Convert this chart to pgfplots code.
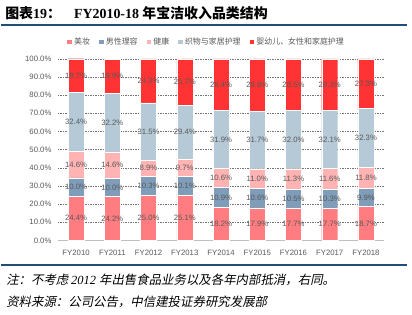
\documentclass[border=0pt]{standalone}
\usepackage{fontspec}
\usepackage{pgfplots}
\usepackage{pgfplotstable}
\pgfplotsset{compat=1.18}
\setmainfont{Liberation Sans}
\newfontfamily\cjk{Noto Sans CJK SC}
\newfontfamily\cjki[FakeSlant=0.2]{Noto Sans CJK SC}
\newfontfamily\serif{Liberation Serif}
\newfontfamily\serifi{Liberation Serif}
\definecolor{cA}{HTML}{FF7C80}
\definecolor{cB}{HTML}{7F9DB9}
\definecolor{cC}{HTML}{FFB3B3}
\definecolor{cD}{HTML}{B5C9D7}
\definecolor{cE}{HTML}{FF3333}
\definecolor{rule}{HTML}{1F4E79}
\definecolor{txt}{HTML}{595959}
\pgfplotstableread{
x a b c d e
0 24.4 10.0 14.6 32.4 18.7
1 24.2 10.0 14.6 32.2 18.9
2 25.0 10.3 8.9 31.5 24.3
3 25.1 10.1 9.7 29.4 25.7
4 18.2 10.9 10.6 31.9 28.4
5 17.9 10.6 11.0 31.7 28.8
6 17.7 10.5 11.3 32.0 28.5
7 17.7 10.3 11.6 32.1 28.3
8 18.7 9.9 11.8 32.3 27.3
}\data
\pgfplotstablecreatecol[expr={\thisrow{a}/2}]{pa}\data
\pgfplotstablecreatecol[expr={\thisrow{a}+\thisrow{b}/2}]{pb}\data
\pgfplotstablecreatecol[expr={\thisrow{a}+\thisrow{b}+\thisrow{c}/2}]{pc}\data
\pgfplotstablecreatecol[expr={\thisrow{a}+\thisrow{b}+\thisrow{c}+\thisrow{d}/2}]{pd}\data
\pgfplotstablecreatecol[expr={\thisrow{a}+\thisrow{b}+\thisrow{c}+\thisrow{d}+\thisrow{e}/2}]{pe}\data
\begin{document}
\begin{tikzpicture}
\path (0bp,0bp) rectangle (412bp,-315bp);
\node[anchor=west,inner sep=0] at (4bp,-13bp) {\fontsize{14}{16}\selectfont\cjk\bfseries 图表\serif\bfseries 19\cjk\bfseries ：};
\node[anchor=west,inner sep=0] at (73bp,-13bp) {\fontsize{14}{16}\selectfont\serif\bfseries FY2010-18 \cjk\bfseries 年宝洁收入品类结构};
\draw[rule,line width=2.2bp] (0bp,-25bp) -- (407bp,-25bp);
\draw[rule,line width=1.6bp] (0bp,-266bp) -- (407bp,-266bp);
\node[anchor=west,inner sep=0] at (5bp,-281bp) {\fontsize{12.5}{14}\selectfont\cjki 注：不考虑 \serifi\itshape 2012 \cjki 年出售食品业务以及各年内部抵消，右同。};
\node[anchor=west,inner sep=0] at (5bp,-303bp) {\fontsize{12.5}{14}\selectfont\cjki 资料来源：公司公告，中信建投证券研究发展部};
\begin{axis}[
  at={(57bp,-241bp)}, anchor=south west,
  scale only axis, width=327bp, height=182bp,
  ybar stacked, bar width=16bp,
  xmin=-0.5, xmax=8.5, ymin=0, ymax=100,
  xtick=data,
  xticklabels={FY2010,FY2011,FY2012,FY2013,FY2014,FY2015,FY2016,FY2017,FY2018},
  ytick={0,10,...,100},
  yticklabel={\pgfmathprintnumber[fixed,fixed zerofill,precision=1]{\tick}\%},
  /pgf/number format/assume math mode=true,
  ticklabel style={font=\fontsize{7.8}{9}\selectfont, text=txt},
  major tick length=0pt,
  axis x line*=bottom, axis y line*=left,
  y axis line style={draw=none},
  x axis line style={draw=black!25, line width=0.6bp},
  ymajorgrids,
  grid style={draw=black!55, dash pattern=on 1.5bp off 1bp, line width=0.5bp},
  xticklabel style={yshift=-6bp},
  yticklabel style={xshift=-3bp},
  legend columns=-1,
  legend style={at={(0.456,1.093)}, anchor=center, draw=none, fill=none,
    font=\cjk\fontsize{8}{9}\selectfont, text=txt,
    /tikz/every even column/.append style={column sep=7bp}},
  legend image code/.code={\path[#1,draw=none] (0bp,-2.4bp) rectangle (4.8bp,2.4bp);},
]
\addplot[fill=cA, draw=white, line width=0.3bp] table[x=x,y=a]{\data};
\addplot[fill=cB, draw=white, line width=0.3bp] table[x=x,y=b]{\data};
\addplot[fill=cC, draw=white, line width=0.3bp] table[x=x,y=c]{\data};
\addplot[fill=cD, draw=white, line width=0.3bp] table[x=x,y=d]{\data};
\addplot[fill=cE, draw=white, line width=0.3bp] table[x=x,y=e]{\data};
\legend{美妆,男性理容,健康,织物与家居护理,婴幼儿、女性和家庭护理}
\end{axis}
\begin{axis}[
  at={(57bp,-241bp)}, anchor=south west,
  scale only axis, width=327bp, height=182bp,
  xmin=-0.5, xmax=8.5, ymin=0, ymax=100,
  hide axis,
  /pgf/number format/assume math mode=true,
  nodes near coords={\pgfmathprintnumber[fixed,fixed zerofill,precision=1]{\pgfplotspointmeta}\%},
  every node near coord/.style={anchor=center, font=\fontsize{7.8}{9}\selectfont, text=txt, inner sep=0},
  point meta=explicit,
]
\addplot[only marks, mark=*, mark size=0pt, mark options={draw=none,fill=none}] table[x=x,y=pa,meta=a]{\data};
\addplot[only marks, mark=*, mark size=0pt, mark options={draw=none,fill=none}] table[x=x,y=pb,meta=b]{\data};
\addplot[only marks, mark=*, mark size=0pt, mark options={draw=none,fill=none}] table[x=x,y=pc,meta=c]{\data};
\addplot[only marks, mark=*, mark size=0pt, mark options={draw=none,fill=none}] table[x=x,y=pd,meta=d]{\data};
\addplot[only marks, mark=*, mark size=0pt, mark options={draw=none,fill=none}] table[x=x,y=pe,meta=e]{\data};
\end{axis}
\end{tikzpicture}
\end{document}
